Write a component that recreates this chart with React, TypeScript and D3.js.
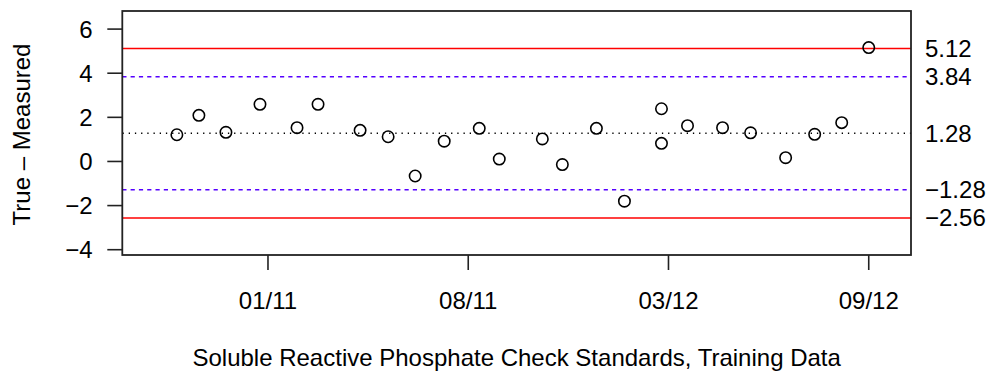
import React from "react";
import * as d3 from "d3";

const sampleDates = [
  "2010-10-27", "2010-11-18", "2010-12-15", "2011-01-18", "2011-02-24",
  "2011-03-17", "2011-04-28", "2011-05-26", "2011-06-22", "2011-07-21",
  "2011-08-25", "2011-09-14", "2011-10-27", "2011-11-16", "2011-12-20",
  "2012-01-17", "2012-02-23", "2012-02-23", "2012-03-20", "2012-04-24",
  "2012-05-22", "2012-06-26", "2012-07-25", "2012-08-21", "2012-09-17",
];
const differences = [
  1.21, 2.09, 1.32, 2.59, 1.53,
  2.59, 1.41, 1.12, -0.66, 0.92,
  1.5, 0.11, 1.02, -0.14, 1.5,
  -1.8, 2.39, 0.82, 1.62, 1.53,
  1.3, 0.17, 1.23, 1.76, 5.16,
];
const xTickDates = ["2011-01-26", "2011-08-14", "2012-03-01", "2012-09-17"];
const yTicks = [-4, -2, 0, 2, 4, 6];
const meanLine = 1.28;
const warningLimits = [3.84, -1.28];
const controlLimits = [5.12, -2.56];
const rightLabels = ["5.12", "3.84", "1.28", "\u22121.28", "\u22122.56"];
const rightLabelValues = [5.12, 3.84, 1.28, -1.28, -2.56];
const xLimits = ["2010-09-02T12:00:00Z", "2012-10-29T05:00:00Z"];
const yLimits = [-4.24, 6.82];

const W = 992;
const H = 374;
const L = 122.3;
const R = 911;
const T = 11;
const B = 255;
const FONT = "'Liberation Sans', Arial, Helvetica, sans-serif";
const FS = 24;

const parseDay = (s: string) => new Date(s + "T00:00:00Z");

export default function App() {
  const x = d3.scaleUtc().domain(xLimits.map((s) => new Date(s))).range([L, R]);
  const y = d3.scaleLinear().domain(yLimits).range([B, T]);
  const fmt = d3.utcFormat("%m/%y");
  const minus = (v: number) => (v < 0 ? "\u2212" + Math.abs(v) : String(v));

  return (
    <svg
      width={W}
      height={H}
      style={{ position: "absolute", left: 0, top: 0, background: "#fff" }}
      fontFamily={FONT}
      fontSize={FS}
    >
      <rect x={0} y={0} width={W} height={H} fill="#fff" />
      <defs>
        <clipPath id="plotClip">
          <rect x={L} y={T} width={R - L} height={B - T} />
        </clipPath>
      </defs>
      <g clipPath="url(#plotClip)">
        {controlLimits.map((v, i) => (
          <line key={"c" + i} x1={L} x2={R} y1={y(v)} y2={y(v)} stroke="#ff0000" strokeWidth={1.6} />
        ))}
        {warningLimits.map((v, i) => (
          <line
            key={"w" + i}
            x1={L}
            x2={R}
            y1={y(v)}
            y2={y(v)}
            stroke="#5500ff"
            strokeWidth={1.6}
            strokeDasharray="4.2,4.1"
          />
        ))}
        <line
          x1={L}
          x2={R}
          y1={y(meanLine)}
          y2={y(meanLine)}
          stroke="#000"
          strokeWidth={1.4}
          strokeDasharray="1.3,4.9"
          strokeDashoffset={-0.2}
        />
      </g>
      {sampleDates.map((d, i) => (
        <circle
          key={"p" + i}
          cx={x(parseDay(d))}
          cy={y(differences[i])}
          r={5.7}
          fill="none"
          stroke="#000"
          strokeWidth={1.6}
        />
      ))}
      <rect x={L} y={T} width={R - L} height={B - T} fill="none" stroke="#222" strokeWidth={1.8} />
      {yTicks.map((v) => (
        <g key={"yt" + v}>
          <line x1={L - 15} x2={L} y1={y(v)} y2={y(v)} stroke="#222" strokeWidth={1.6} />
          <text x={92.5} y={y(v) + 8.5} textAnchor="end" fill="#000">
            {minus(v)}
          </text>
        </g>
      ))}
      {xTickDates.map((d) => {
        const dt = parseDay(d);
        const px = x(dt);
        return (
          <g key={"xt" + d}>
            <line x1={px} x2={px} y1={B} y2={B + 15} stroke="#222" strokeWidth={1.6} />
            <text x={px} y={309} textAnchor="middle" fill="#000">
              {fmt(dt)}
            </text>
          </g>
        );
      })}
      {rightLabels.map((s, i) => (
        <text key={"rl" + i} x={925} y={y(rightLabelValues[i]) + 8.5} textAnchor="start" fill="#000">
          {s}
        </text>
      ))}
      <text x={(L + R) / 2} y={366} textAnchor="middle" fill="#000">
        Soluble Reactive Phosphate Check Standards, Training Data
      </text>
      <text transform={`translate(30,${(T + B) / 2 + 1.5}) rotate(-90)`} textAnchor="middle" fill="#000">
        True {"\u2013"} Measured
      </text>
    </svg>
  );
}
